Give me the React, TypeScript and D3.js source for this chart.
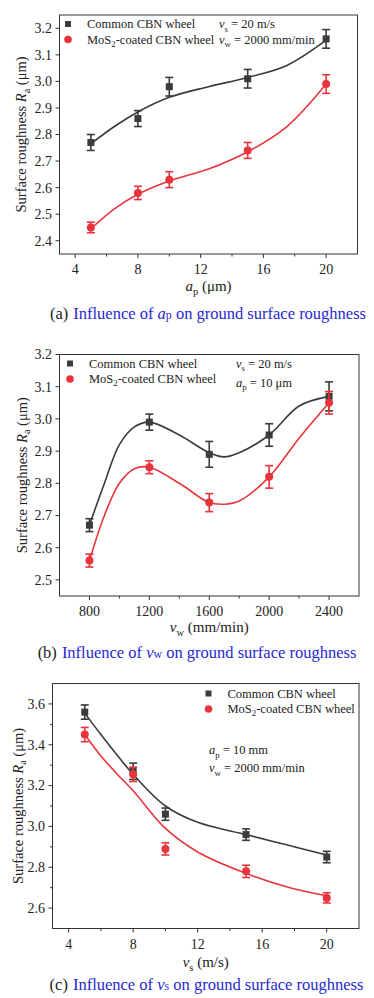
import React from 'react';
import * as d3 from 'd3';

// ---- panel (a): effect of a_p ----
const aX = [5, 8, 10, 15, 20];
const aCommon = [2.77, 2.86, 2.98, 3.01, 3.16];
const aCommonErr = [0.03, 0.03, 0.035, 0.035, 0.035];
const aMos2 = [2.45, 2.58, 2.63, 2.74, 2.99];
const aMos2Err = [0.02, 0.025, 0.03, 0.03, 0.035];
const aFitX = [5, 6.5, 8, 10, 12.5, 15, 17.5, 20];
const aCommonFit = [2.765, 2.83, 2.885, 2.94, 2.98, 3.015, 3.06, 3.155];
const aMos2Fit = [2.445, 2.52, 2.575, 2.625, 2.67, 2.735, 2.83, 2.99];
const aXTicks = [4, 8, 12, 16, 20];
const aYTicks = [2.4, 2.5, 2.6, 2.7, 2.8, 2.9, 3.0, 3.1, 3.2];

// ---- panel (b): effect of v_w ----
const bX = [800, 1200, 1600, 2000, 2400];
const bCommon = [2.67, 2.99, 2.89, 2.95, 3.07];
const bCommonErr = [0.02, 0.025, 0.04, 0.035, 0.045];
const bMos2 = [2.56, 2.85, 2.74, 2.82, 3.05];
const bMos2Err = [0.02, 0.02, 0.028, 0.035, 0.035];
const bFitX = [800, 900, 1000, 1100, 1200, 1400, 1600, 1700, 1800, 2000, 2200, 2400];
const bCommonFit = [2.67, 2.8, 2.92, 2.975, 2.99, 2.95, 2.895, 2.882, 2.895, 2.95, 3.04, 3.07];
const bMos2Fit = [2.56, 2.7, 2.8, 2.845, 2.85, 2.8, 2.74, 2.735, 2.745, 2.82, 2.94, 3.05];
const bXTicks = [800, 1200, 1600, 2000, 2400];
const bYTicks = [2.5, 2.6, 2.7, 2.8, 2.9, 3.0, 3.1, 3.2];

// ---- panel (c): effect of v_s ----
const cX = [5, 8, 10, 15, 20];
const cCommon = [3.56, 3.27, 3.06, 2.96, 2.85];
const cCommonErr = [0.035, 0.04, 0.03, 0.028, 0.028];
const cMos2 = [3.45, 3.255, 2.89, 2.78, 2.65];
const cMos2Err = [0.035, 0.035, 0.03, 0.03, 0.025];
const cFitX = [5, 6, 7, 8, 10, 12, 15, 17.5, 20];
const cCommonFit = [3.555, 3.45, 3.35, 3.255, 3.1, 3.02, 2.96, 2.91, 2.86];
const cMos2Fit = [3.45, 3.345, 3.257, 3.175, 2.99, 2.875, 2.77, 2.705, 2.66];
const cXTicks = [4, 8, 12, 16, 20];
const cYTicks = [2.6, 2.8, 3.0, 3.2, 3.4, 3.6];

const BLACK = '#3b3b3b';
const RED = '#e8353b';
const BLUE = '#2828d2';
const FONT = 'Liberation Serif, DejaVu Serif, serif';

type Sub = { main: string; sub: string };

type PanelCfg = {
  top: number; bottom: number; left: number; right: number;
  xDomain: [number, number]; yDomain: [number, number];
  xTicks: number[]; xMinor: number[]; yTicks: number[]; yMinor: number[];
  yFmt: (d: number) => string;
  x: number[]; common: number[]; commonErr: number[]; mos2: number[]; mos2Err: number[];
  fitX: number[]; commonFit: number[]; mos2Fit: number[];
  legend: { x: number; y: number };
  cond: { x: number; y: number; gap: number; items: { sym: Sub; rest: string }[] };
  xTitle: Sub & { rest: string; y: number };
  yTitleX: number;
  caption: { label: string; sym: Sub; y: number; cx: number };
};

const panels: PanelCfg[] = [
  {
    top: 15, bottom: 254, left: 59.5, right: 357.5,
    xDomain: [3, 22], yDomain: [2.35, 3.25],
    xTicks: aXTicks, xMinor: [6, 10, 14, 18], yTicks: aYTicks, yMinor: [],
    yFmt: d3.format('.1f'),
    x: aX, common: aCommon, commonErr: aCommonErr, mos2: aMos2, mos2Err: aMos2Err,
    fitX: aFitX, commonFit: aCommonFit, mos2Fit: aMos2Fit,
    legend: { x: 68, y: 24 },
    cond: { x: 219, y: 24, gap: 15.5, items: [
      { sym: { main: 'v', sub: 's' }, rest: ' = 20 m/s' },
      { sym: { main: 'v', sub: 'w' }, rest: ' = 2000 mm/min' },
    ] },
    xTitle: { main: 'a', sub: 'p', rest: ' (μm)', y: 291 },
    yTitleX: 21,
    caption: { label: '(a)', sym: { main: 'a', sub: 'p' }, y: 319, cx: 208 },
  },
  {
    top: 354.5, bottom: 596, left: 59.5, right: 359,
    xDomain: [600, 2600], yDomain: [2.45, 3.2],
    xTicks: bXTicks, xMinor: [1000, 1400, 1800, 2200], yTicks: bYTicks, yMinor: [],
    yFmt: d3.format('.1f'),
    x: bX, common: bCommon, commonErr: bCommonErr, mos2: bMos2, mos2Err: bMos2Err,
    fitX: bFitX, commonFit: bCommonFit, mos2Fit: bMos2Fit,
    legend: { x: 70, y: 363.5 },
    cond: { x: 236, y: 363.5, gap: 19, items: [
      { sym: { main: 'v', sub: 's' }, rest: ' = 20 m/s' },
      { sym: { main: 'a', sub: 'p' }, rest: ' = 10 μm' },
    ] },
    xTitle: { main: 'v', sub: 'w', rest: ' (mm/min)', y: 632 },
    yTitleX: 21.5,
    caption: { label: '(b)', sym: { main: 'v', sub: 'w' }, y: 658, cx: 197 },
  },
  {
    top: 683.5, bottom: 928.5, left: 52.5, right: 359,
    xDomain: [3, 22], yDomain: [2.5, 3.7],
    xTicks: cXTicks, xMinor: [6, 10, 14, 18], yTicks: cYTicks, yMinor: [2.7, 2.9, 3.1, 3.3, 3.5],
    yFmt: d3.format('.1f'),
    x: cX, common: cCommon, commonErr: cCommonErr, mos2: cMos2, mos2Err: cMos2Err,
    fitX: cFitX, commonFit: cCommonFit, mos2Fit: cMos2Fit,
    legend: { x: 208.5, y: 693.5 },
    cond: { x: 209, y: 750, gap: 18, items: [
      { sym: { main: 'a', sub: 'p' }, rest: ' = 10 mm' },
      { sym: { main: 'v', sub: 'w' }, rest: ' = 2000 mm/min' },
    ] },
    xTitle: { main: 'v', sub: 's', rest: ' (m/s)', y: 967 },
    yTitleX: 17.5,
    caption: { label: '(c)', sym: { main: 'v', sub: 's' }, y: 990, cx: 206.5 },
  },
];

// italic symbol with an upright subscript, followed by the rest of the label
function SymText({ sym, size, rest }: { sym: Sub; size: number; rest: string }) {
  const shift = size * 0.25;
  return (
    <>
      <tspan fontStyle="italic">{sym.main}</tspan>
      <tspan fontSize={size * 0.7} dy={shift}>{sym.sub}</tspan>
      <tspan dy={-shift}>{rest}</tspan>
    </>
  );
}

function Panel({ p }: { p: PanelCfg }) {
  const x = d3.scaleLinear().domain(p.xDomain).range([p.left, p.right]);
  const y = d3.scaleLinear().domain(p.yDomain).range([p.bottom, p.top]);
  const line = d3.line<[number, number]>()
    .x(d => x(d[0]))
    .y(d => y(d[1]))
    .curve(d3.curveCatmullRom.alpha(0.5));

  const series = [
    { vals: p.common, err: p.commonErr, fit: p.commonFit, color: BLACK, shape: 'square' },
    { vals: p.mos2, err: p.mos2Err, fit: p.mos2Fit, color: RED, shape: 'circle' },
  ];

  const tickSize = 14;
  const legSize = 12.5;

  return (
    <g fontFamily={FONT}>
      {/* frame */}
      <rect x={p.left} y={p.top} width={p.right - p.left} height={p.bottom - p.top}
        fill="none" stroke="#333" strokeWidth={1} />

      {/* x ticks */}
      {p.xTicks.map(t => (
        <g key={'xt' + t}>
          <line x1={x(t)} x2={x(t)} y1={p.bottom} y2={p.bottom + 4} stroke="#333" />
          <text x={x(t)} y={p.bottom + 20} textAnchor="middle" fontSize={tickSize} fill="#222">{t}</text>
        </g>
      ))}
      {p.xMinor.map(t => (
        <line key={'xm' + t} x1={x(t)} x2={x(t)} y1={p.bottom} y2={p.bottom + 2.5} stroke="#333" />
      ))}

      {/* y ticks */}
      {p.yTicks.map(t => (
        <g key={'yt' + t}>
          <line x1={p.left - 4} x2={p.left} y1={y(t)} y2={y(t)} stroke="#333" />
          <text x={p.left - 7.5} y={y(t)} dy="0.35em" textAnchor="end" fontSize={tickSize} fill="#222">{p.yFmt(t)}</text>
        </g>
      ))}
      {p.yMinor.map(t => (
        <line key={'ym' + t} x1={p.left - 2.5} x2={p.left} y1={y(t)} y2={y(t)} stroke="#333" />
      ))}

      {/* axis titles */}
      <text x={(p.left + p.right) / 2} y={p.xTitle.y} textAnchor="middle" fontSize={15} fill="#222">
        <SymText sym={p.xTitle} size={15} rest={p.xTitle.rest} />
      </text>
      <text transform={`translate(${p.yTitleX},${(p.top + p.bottom) / 2}) rotate(-90)`}
        textAnchor="middle" dy="0.35em" fontSize={14.5} fill="#222">
        <tspan>Surface roughness </tspan>
        <SymText sym={{ main: 'R', sub: 'a' }} size={14.5} rest=" (μm)" />
      </text>

      {/* fitted curves */}
      {series.map((s, i) => (
        <path key={'fit' + i}
          d={line(p.fitX.map((v, j) => [v, s.fit[j]] as [number, number])) || ''}
          fill="none" stroke={s.color} strokeWidth={1.6} />
      ))}

      {/* error bars and markers */}
      {series.map((s, i) => (
        <g key={'pts' + i} fill={s.color} stroke={s.color}>
          {p.x.map((v, j) => {
            const cx = x(v);
            const cy = y(s.vals[j]);
            const y1 = y(s.vals[j] + s.err[j]);
            const y2 = y(s.vals[j] - s.err[j]);
            return (
              <g key={j}>
                <line x1={cx} x2={cx} y1={y1} y2={y2} strokeWidth={1.6} />
                <line x1={cx - 4} x2={cx + 4} y1={y1} y2={y1} strokeWidth={1.6} />
                <line x1={cx - 4} x2={cx + 4} y1={y2} y2={y2} strokeWidth={1.6} />
                {s.shape === 'square'
                  ? <rect x={cx - 3.5} y={cy - 3.5} width={7} height={7} stroke="none" />
                  : <circle cx={cx} cy={cy} r={4} stroke="none" />}
              </g>
            );
          })}
        </g>
      ))}

      {/* legend */}
      <rect x={p.legend.x - 3} y={p.legend.y - 3} width={6} height={6} fill={BLACK} />
      <text x={p.legend.x + 19} y={p.legend.y} dy="0.35em" fontSize={legSize} fill="#222">Common CBN wheel</text>
      <circle cx={p.legend.x} cy={p.legend.y + 15.5} r={3.8} fill={RED} />
      <text x={p.legend.x + 19} y={p.legend.y + 15.5} dy="0.35em" fontSize={legSize} fill="#222">
        <tspan>MoS</tspan>
        <tspan fontSize={legSize * 0.7} dy={3}>2</tspan>
        <tspan dy={-3}>-coated CBN wheel</tspan>
      </text>

      {/* cutting conditions */}
      {p.cond.items.map((c, i) => (
        <text key={'cond' + i} x={p.cond.x} y={p.cond.y + i * p.cond.gap} dy="0.35em" fontSize={legSize} fill="#222">
          <SymText sym={c.sym} size={legSize} rest={c.rest} />
        </text>
      ))}

      {/* caption */}
      <text x={p.caption.cx} y={p.caption.y} textAnchor="middle" fontSize={16.5} fill="#222">
        <tspan>{p.caption.label}</tspan>
        <tspan fill={BLUE} dx={5}>Influence of </tspan>
        <tspan fill={BLUE} fontStyle="italic">{p.caption.sym.main}</tspan>
        <tspan fill={BLUE} fontSize={16.5 * 0.72}>{p.caption.sym.sub}</tspan>
        <tspan fill={BLUE}> on ground surface roughness</tspan>
      </text>
    </g>
  );
}

export default function App() {
  return (
    <svg width={374} height={998} style={{ position: 'absolute', left: 0, top: 0, background: '#fff' }}>
      <rect width={374} height={998} fill="#fff" />
      {panels.map((p, i) => <Panel key={i} p={p} />)}
    </svg>
  );
}
